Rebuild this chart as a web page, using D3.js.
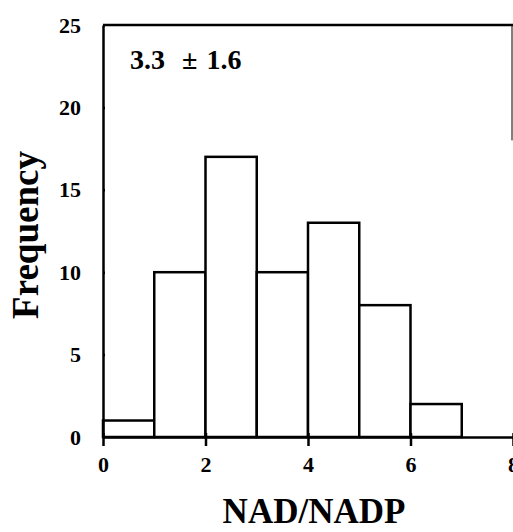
<!DOCTYPE html>
<html>
<head>
<meta charset="utf-8">
<script src="https://cdn.jsdelivr.net/npm/d3@7"></script>
<style>
body{margin:0;background:#fff;}
text{font-family:"Liberation Serif","Times New Roman",serif;font-weight:bold;fill:#000;}
</style>
</head>
<body>
<script>
// histogram bins (NAD/NADP ratio) and counts
var binStarts = [0, 1, 2, 3, 4, 5, 6, 7];
var binWidth = 1;
var counts = [1, 10, 17, 10, 13, 8, 2, 0];
var xTicks = [0, 2, 4, 6, 8];
var yTicks = [0, 5, 10, 15, 20, 25];
var statLabel = ["3.3", "\u00B1", "1.6"];

var margin = {top:25, right:0, bottom:95, left:103},
    width = 513 - margin.left - margin.right,
    height = 532 - margin.top - margin.bottom;

var svg = d3.select("body")
    .append("svg")
        .attr("width", 513)
        .attr("height", 532)
    .append("g")
        .attr("transform", "translate(" + margin.left + "," + margin.top + ")");

var x = d3.scaleLinear().domain([0, 8]).range([0, 410]);
var y = d3.scaleLinear().domain([0, 25]).range([height, 0]);

// bars
svg.selectAll(".bar")
    .data(binStarts)
    .enter()
    .append("rect")
    .attr("class", "bar")
    .attr("x", function(d){ return x(d); })
    .attr("y", function(d, i){ return y(counts[i]); })
    .attr("width", function(d){ return x(d + binWidth) - x(d); })
    .attr("height", function(d, i){ return height - y(counts[i]); })
    .style("fill", "#fff")
    .style("stroke", "#000")
    .style("stroke-width", 2.5);

// top frame (right edge only faintly visible at the top)
svg.append("line")
    .attr("x1", 0).attr("x2", x(8))
    .attr("y1", y(25)).attr("y2", y(25))
    .style("stroke", "#000").style("stroke-width", 2.5);
svg.append("line")
    .attr("x1", x(8) - 1).attr("x2", x(8) - 1)
    .attr("y1", y(25)).attr("y2", y(18))
    .style("stroke", "#000").style("stroke-width", 1);

// axes
var xAxis = svg.append("g")
    .attr("transform", "translate(0," + height + ")")
    .call(d3.axisBottom(x).tickValues(xTicks).tickSize(9).tickSizeOuter(0).tickPadding(10));
xAxis.selectAll(".tick line").attr("y1", -4);
xAxis.selectAll("text").style("font-size", "22px");

var yAxis = svg.append("g")
    .call(d3.axisLeft(y).tickValues(yTicks).tickSize(12).tickSizeOuter(0).tickPadding(10));
yAxis.selectAll(".tick line").attr("x2", 2);
yAxis.selectAll("text").style("font-size", "22px");

svg.selectAll(".domain, .tick line")
    .style("stroke", "#000")
    .style("stroke-width", 2.5);

// mean +/- sd
var stat = svg.append("text")
    .attr("x", 27)
    .attr("y", 44)
    .style("font-size", "28px");
stat.append("tspan").text(statLabel[0]);
stat.append("tspan").attr("dx", 17).text(statLabel[1]);
stat.append("tspan").attr("dx", 9).text(statLabel[2]);

// axis titles
svg.append("text")
    .attr("text-anchor", "middle")
    .attr("transform", "translate(" + (38 - margin.left) + "," + (235 - margin.top) + ") rotate(-90)")
    .style("font-size", "37px")
    .text("Frequency");

svg.append("text")
    .attr("text-anchor", "middle")
    .attr("x", 314 - margin.left)
    .attr("y", 523 - margin.top)
    .style("font-size", "35px")
    .text("NAD/NADP");
</script>
</body>
</html>
